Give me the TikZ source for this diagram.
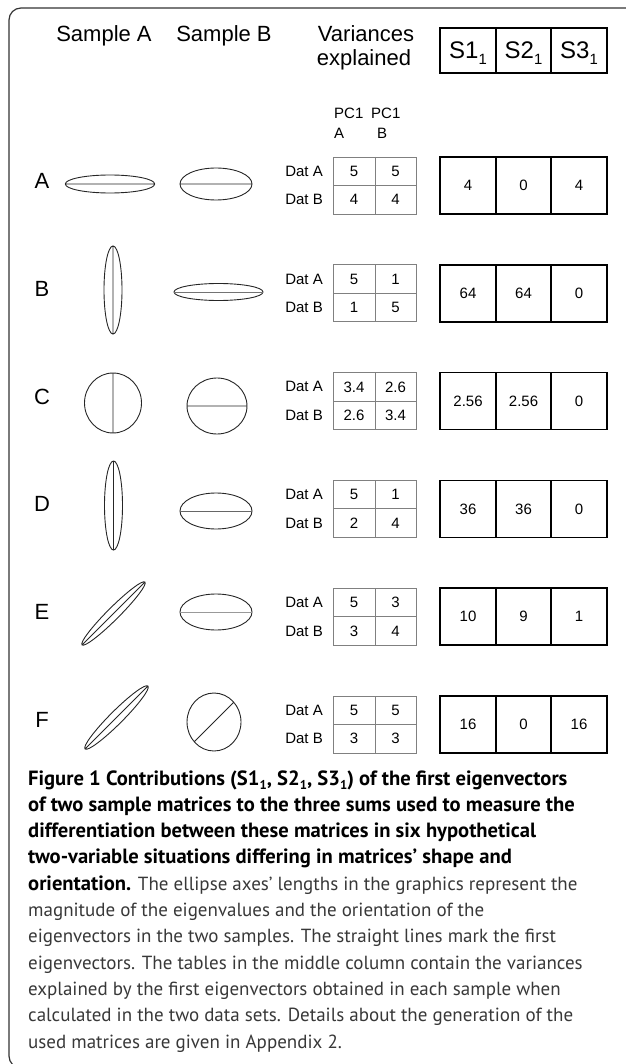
\documentclass[tikz,border=0pt]{standalone}
\usepackage{fontspec}
\setmainfont{Liberation Sans}
\newfontfamily\capfont{PT Sans}
\newcommand{\lowidx}[1]{\raisebox{-0.4ex}{\scalebox{0.62}{#1}}}

\begin{document}
\begin{tikzpicture}[x=1pt,y=-1pt,
    lab/.style={anchor=base,inner sep=0pt,font=\fontsize{22}{26}\selectfont},
    small/.style={inner sep=0pt,font=\fontsize{15}{18}\selectfont},
    ell/.style={line width=0.9pt,black!85},
    grid/.style={draw=black!50,line width=0.9pt},
    sbox/.style={line width=1.6pt},
    capline/.style={anchor=base west,inner sep=0pt,text=black!78,font=\capfont\fontsize{19}{22}\selectfont},
    capbf/.style={capline,text=black,font=\capfont\bfseries\fontsize{20.6}{22}\selectfont}]
    \useasboundingbox (0,0) rectangle (625,1064);
    \draw[line width=1.2pt,black!80,rounded corners=12](660,8)--(9,8)--(9,1068)--(660,1068);
    \node[lab](hsa) at (104,42){Sample A};
    \node[lab](hsb) at (224,42){Sample B};
    \node[lab](hvar) at (366,42){Variances};
    \node[lab](hexp) at (364,66){explained};
    \draw[line width=2pt](440,28)rectangle(607,73);
    \draw[line width=2pt](496,28)--(496,73) (551,28)--(551,73);
    \node[lab,font=\fontsize{24}{28}\selectfont](hs1) at (468,59){S1\lowidx{1}};
    \node[lab,font=\fontsize{24}{28}\selectfont](hs2) at (523.5,59){S2\lowidx{1}};
    \node[lab,font=\fontsize{24}{28}\selectfont](hs3) at (579,59){S3\lowidx{1}};
    \node[small,anchor=base west](pca) at (334,118.5){PC1};
    \node[small,anchor=base west](pcb) at (371,118.5){PC1};
    \node[small,anchor=base west](pcla) at (334,138.5){A};
    \node[small,anchor=base west](pclb) at (377,138.5){B};
    \foreach \i/\lab/\a/\b/\c/\d/\p/\q/\r in {0/A/5/5/4/4/4/0/4,1/B/5/1/1/5/64/64/0,2/C/3.4/2.6/2.6/3.4/2.56/2.56/0,
        3/D/5/1/2/4/36/36/0,4/E/5/3/3/4/10/9/1,5/F/5/5/3/3/16/0/16}{
        \pgfmathsetmacro\ty{157+107.8*\i}
        \node[lab,anchor=center](row\lab) at (42,\ty+24){\lab};
        \draw[grid](333,\ty)rectangle(416,\ty+57);
        \draw[grid](333,\ty+28.5)--(416,\ty+28.5) (375,\ty)--(375,\ty+57);
        \node[small,anchor=east](datA\lab) at (323,\ty+14.25){Dat A};
        \node[small,anchor=east](datB\lab) at (323,\ty+42.75){Dat B};
        \node[small](vaa\lab) at (354,\ty+14.25){\a};
        \node[small](vab\lab) at (395.5,\ty+14.25){\b};
        \node[small](vba\lab) at (354,\ty+42.75){\c};
        \node[small](vbb\lab) at (395.5,\ty+42.75){\d};
        \draw[sbox](440,\ty)rectangle(607,\ty+57);
        \draw[sbox](496,\ty)--(496,\ty+57) (551,\ty)--(551,\ty+57);
        \node[small](sa\lab) at (468,\ty+28.5){\p};
        \node[small](sb\lab) at (523.5,\ty+28.5){\q};
        \node[small](sc\lab) at (579,\ty+28.5){\r};
    }
    \draw[ell](110,184)ellipse[x radius=44.7,y radius=9] (65.3,184)--(154.7,184);
    \draw[ell](216,184)ellipse[x radius=36,y radius=16] (180,184)--(252,184);
    \draw[ell](113,290)ellipse[x radius=9,y radius=44] (113,246)--(113,334);
    \draw[ell](218.5,292)ellipse[x radius=44.5,y radius=8.5];
    \draw[ell,black!55](174,292)--(263,292);
    \draw[ell](113,403)ellipse[x radius=28.5,y radius=30] (113,373)--(113,433);
    \draw[ell](217,406)ellipse[x radius=30,y radius=28] (187,406)--(247,406);
    \draw[ell](113.5,505.5)ellipse[x radius=9,y radius=44.5] (113.5,461)--(113.5,550);
    \draw[ell](216,511)ellipse[x radius=36,y radius=18];
    \draw[ell,black!60](180,511)--(252,511);
    \draw[ell,shift={(113.5,613.5)},rotate=45](0,0)ellipse[x radius=44.5,y radius=6] (-44.5,0)--(44.5,0);
    \draw[ell](216,612)ellipse[x radius=36,y radius=18];
    \draw[ell,black!40](180,612)--(252,612);
    \draw[ell,shift={(116.5,717.5)},rotate=45](0,0)ellipse[x radius=44.5,y radius=6.5] (-44.5,0)--(44.5,0);
    \draw[ell](214,722)ellipse[x radius=27,y radius=29] (194.5,741.5)--(233.5,702.5);
    \node[capbf](cap1) at (28,785){Figure 1 Contributions (S1\lowidx{1}, S2\lowidx{1}, S3\lowidx{1}) of the first eigenvectors};
    \node[capbf](cap2) at (28,811.3){of two sample matrices to the three sums used to measure the};
    \node[capbf](cap3) at (28,837.6){differentiation between these matrices in six hypothetical};
    \node[capbf](cap4) at (28,863.9){two-variable situations differing in matrices’ shape and};
    \node[capline](cap5) at (28,890.2){{\bfseries\fontsize{20.6}{22}\selectfont\color{black}orientation.} The ellipse axes’ lengths in the graphics represent the};
    \node[capline](cap6) at (28,916.5){magnitude of the eigenvalues and the orientation of the};
    \node[capline](cap7) at (28,942.8){eigenvectors in the two samples. The straight lines mark the first};
    \node[capline](cap8) at (28,969.1){eigenvectors. The tables in the middle column contain the variances};
    \node[capline](cap9) at (28,995.4){explained by the first eigenvectors obtained in each sample when};
    \node[capline](cap10) at (28,1021.7){calculated in the two data sets. Details about the generation of the};
    \node[capline](cap11) at (28,1048){used matrices are given in Appendix 2.};
\end{tikzpicture}
\end{document}
